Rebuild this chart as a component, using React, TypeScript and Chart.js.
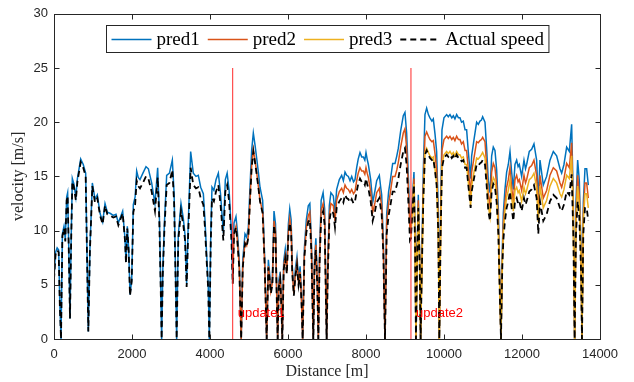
import React, { useEffect, useRef } from "react";
import { Chart, registerables } from "chart.js";

Chart.register(...registerables);

// Distance samples [m]
const distance = [
  0, 40, 80, 120, 150, 180, 215, 256, 290, 325,
  350, 380, 410, 440, 470, 510, 560, 600, 684, 750,
  812, 845, 880, 920, 983, 1051, 1111, 1180, 1248, 1308,
  1368, 1436, 1521, 1590, 1650, 1700, 1761, 1820, 1846, 1880,
  1915, 1949, 1992, 2034, 2080, 2120, 2160, 2205, 2280, 2359,
  2420, 2504, 2589, 2658, 2700, 2740, 2760, 2790, 2830, 2889,
  2960, 3034, 3080, 3120, 3145, 3187, 3256, 3316, 3360, 3401,
  3440, 3504, 3572, 3640, 3700, 3761, 3829, 3870, 3910, 3955,
  3983, 4020, 4051, 4100, 4154, 4214, 4270, 4342, 4393, 4440,
  4490, 4550,
  4582, 4615, 4666, 4700, 4750, 4780, 4800, 4840, 4897, 4940,
  4983, 5025, 5068, 5111, 5154, 5196, 5240, 5282, 5350, 5400,
  5453, 5496, 5530, 5560, 5600, 5641, 5680, 5710, 5735, 5765,
  5800, 5830, 5854, 5890, 5930, 5970, 6010, 6045, 6080, 6110,
  6150, 6190, 6230, 6270, 6310, 6345, 6376, 6420, 6470, 6520,
  6560, 6600, 6630, 6649, 6680, 6715, 6750, 6778, 6810, 6850,
  6900, 6940, 6970, 6991, 7020, 7060, 7100, 7162, 7205, 7248,
  7316, 7376, 7420, 7462, 7505, 7547, 7590, 7633, 7680, 7718,
  7761, 7800, 7846, 7890, 7932, 7970, 8000, 8030, 8060, 8120,
  8171, 8200, 8231, 8274, 8342, 8380, 8402, 8445, 8470, 8487,
  8510, 8530, 8580, 8615, 8684, 8744, 8790, 8829, 8889, 8956,
  8999, 9042, 9085, 9127,
  9153, 9170, 9230, 9260, 9281, 9310, 9341, 9375, 9401, 9430,
  9469, 9512, 9555, 9600, 9640, 9690, 9726, 9770, 9811, 9854,
  9880, 9914, 9948, 9999, 10068, 10110, 10153, 10200, 10239, 10280,
  10324, 10370, 10409, 10450, 10495, 10540, 10580, 10623, 10683, 10709,
  10769, 10837, 10880, 10922, 10960, 10991, 11051, 11093, 11136, 11179,
  11222, 11264, 11307, 11350, 11393, 11435, 11461, 11495, 11521, 11563,
  11606, 11649, 11692, 11734, 11777, 11820, 11863, 11900, 11931, 11991,
  12051, 12090, 12119, 12187, 12247, 12307, 12375, 12418, 12461, 12546,
  12632, 12717, 12803, 12888, 12974, 13017, 13076, 13145, 13213, 13273,
  13316, 13350, 13384, 13427, 13470, 13512, 13538, 13572, 13615, 13658,
  13700,
];

// Actual speed [m/s]
const actualSpeed = [
  5.5, 7.8, 8.2, 8.0, 3.0, 0, 9.5, 10.2, 9.0, 12.8,
  13.2, 8.0, 1.9, 9.0, 14.5, 14.0, 12.8, 14.5, 16.3, 15.8,
  15.0, 8.0, 0.7, 8.0, 14.1, 12.6, 13.0, 11.4, 10.6, 12.3,
  11.5, 11.4, 11.2, 11.3, 10.5, 11.0, 11.6, 9.1, 7.0, 10.2,
  8.1, 4.0, 5.3, 11.7, 12.4, 14.6, 14.1, 13.9, 14.4, 15.0,
  14.8, 13.6, 11.8, 14.9, 11.0, 4.0, 0, 6.0, 10.0, 14.2,
  14.4, 15.6, 12.6, 5.0, 0, 9.1, 11.8, 10.5, 9.1, 4.8,
  9.6, 15.8, 14.2, 13.9, 14.0, 13.0, 12.4, 10.3, 7.5, 4.5,
  0, 9.0, 13.0, 12.7, 13.6, 14.2, 12.4, 9.1, 13.6, 14.2,
  12.7, 9.1,
  5.1, 9.7, 10.3, 9.1, 6.6, 2.5, 0, 6.6, 8.8, 8.5,
  9.4, 12.7, 15.8, 17.3, 16.3, 15.2, 14.0, 12.7, 11.6, 7.0,
  0, 6.6, 5.4, 4.2, 5.0, 10.5, 9.5, 4.0, 0, 4.8,
  5.5, 3.0, 0, 6.4, 7.4, 6.0, 9.5, 10.7, 9.8, 6.0,
  4.0, 5.8, 6.8, 5.0, 6.0, 3.5, 0, 7.5, 9.8, 10.8,
  11.0, 8.0, 3.0, 0, 6.5, 8.2, 5.0, 0, 7.0, 11.2,
  11.8, 10.5, 4.0, 0, 6.0, 10.8, 11.8, 11.6, 10.3, 12.1,
  12.7, 13.0, 12.6, 13.3, 13.0, 12.9, 12.6, 12.9, 12.5, 12.7,
  13.6, 14.3, 14.8, 14.5, 14.5, 14.2, 14.8, 14.3, 13.9, 12.7,
  10.9, 11.3, 11.8, 12.6, 13.0, 12.0, 11.5, 7.8, 3.0, 0,
  5.0, 9.7, 11.4, 12.1, 13.6, 13.6, 14.2, 14.8, 16.1, 17.3,
  17.6, 16.0, 12.7, 9.1,
  9.3, 10.5, 14.2, 8.0, 0, 7.0, 12.1, 7.0, 0, 6.0,
  12.7, 17.0, 17.4, 17.0, 16.7, 16.5, 16.6, 15.5, 14.2, 9.7,
  0, 9.7, 15.8, 16.7, 17.0, 16.8, 17.0, 16.7, 16.9, 16.6,
  17.0, 16.7, 16.7, 16.4, 16.5, 15.8, 15.8, 14.2, 12.1, 13.6,
  14.8, 16.1, 16.0, 16.2, 16.3, 16.5, 16.1, 14.2, 11.8, 10.9,
  13.6, 14.3, 14.0, 12.6, 9.7, 3.5, 0, 6.6, 9.1, 10.9,
  12.1, 12.7, 13.6, 12.1, 10.9, 12.7, 13.0, 12.5, 12.7, 11.8,
  13.0, 12.4, 12.7, 13.6, 13.8, 14.2, 13.0, 9.7, 12.7, 10.9,
  11.5, 12.7, 13.3, 13.0, 12.1, 11.8, 12.4, 13.6, 13.3, 15.2,
  9.7, 0, 9.7, 12.7, 11.2, 6.5, 0, 9.7, 12.1, 12.1,
  10.9,
];

// pred1, over the whole route
const pred1 = [
  5.6, 8.0, 8.4, 8.2, 3.1, 0, 9.7, 10.4, 9.2, 13.1,
  13.5, 8.2, 1.9, 9.2, 14.8, 14.3, 13.1, 14.8, 16.6, 16.1,
  15.3, 8.2, 0.7, 8.2, 14.4, 12.9, 13.3, 11.6, 10.8, 12.5,
  11.7, 11.6, 11.4, 11.5, 10.7, 11.2, 11.8, 9.3, 7.1, 10.4,
  8.3, 4.1, 5.4, 12.4, 13.1, 15.5, 14.9, 14.7, 15.3, 15.9,
  15.7, 14.4, 12.5, 15.8, 11.7, 4.2, 0, 6.4, 10.6, 15.1,
  15.3, 16.5, 13.4, 5.3, 0, 9.6, 12.5, 11.1, 9.6, 5.1,
  10.4, 17.3, 15.3, 15.0, 15.1, 14.0, 13.4, 11.1, 8.1, 4.9,
  0, 9.7, 14.0, 13.7, 14.7, 15.3, 13.4, 9.8, 14.7, 15.3,
  13.7, 9.8,
  5.5, 10.7, 11.3, 10.0, 7.3, 2.8, 0, 7.3, 9.7, 9.4,
  10.3, 14.0, 17.4, 19.0, 17.9, 16.7, 15.4, 14.0, 12.8, 7.7,
  0, 7.3, 6.0, 4.7, 5.6, 11.8, 10.6, 4.5, 0, 5.4,
  6.2, 3.4, 0, 7.2, 8.3, 6.7, 10.6, 12.0, 11.0, 6.7,
  4.5, 6.5, 7.6, 5.6, 6.7, 3.9, 0, 8.4, 11.0, 12.3,
  12.5, 9.1, 3.4, 0, 7.4, 9.3, 5.7, 0, 8.0, 12.8,
  13.5, 12.0, 4.6, 0, 6.8, 12.3, 13.5, 13.2, 11.7, 13.8,
  14.7, 15.1, 14.6, 15.4, 15.1, 15.0, 14.6, 15.0, 14.5, 14.7,
  15.8, 16.6, 17.2, 16.8, 16.8, 16.5, 17.2, 16.6, 16.1, 14.7,
  12.6, 13.1, 13.7, 14.6, 15.1, 13.9, 13.3, 9.0, 3.5, 0,
  6.0, 11.5, 13.6, 14.4, 16.2, 16.2, 16.9, 17.6, 19.2, 20.6,
  20.9, 19.0, 15.1, 10.8,
  11.1, 11.6, 15.4, 8.8, 0, 7.7, 13.3, 7.7, 0, 7.0,
  15.5, 20.7, 21.3, 20.7, 20.4, 20.1, 20.3, 18.9, 17.3, 11.8,
  0, 11.8, 19.3, 20.4, 20.7, 20.5, 20.7, 20.4, 20.6, 20.3,
  20.7, 20.4, 20.4, 20.0, 20.1, 19.3, 19.3, 17.3, 14.8, 16.9,
  18.4, 20.0, 19.8, 20.1, 20.2, 20.5, 20.0, 17.6, 14.6, 13.5,
  16.9, 17.7, 17.4, 15.6, 12.0, 4.3, 0, 8.2, 11.6, 13.8,
  15.4, 16.1, 17.3, 15.4, 13.8, 16.1, 16.5, 15.9, 16.1, 15.0,
  16.5, 15.7, 16.1, 17.3, 17.5, 18.0, 16.5, 12.6, 16.5, 14.2,
  15.0, 16.5, 17.3, 16.9, 15.7, 15.3, 16.1, 17.7, 17.3, 19.8,
  12.6, 0, 12.6, 16.5, 14.6, 8.5, 0, 12.6, 15.7, 15.7,
  14.2,
];

// pred2, from update1 onward
const pred2 = [
  5.1, 9.8, 10.4, 9.2, 6.7, 2.5, 0, 6.7, 8.9, 8.6,
  9.5, 12.8, 16.0, 17.5, 16.5, 15.4, 14.1, 12.8, 11.7, 7.1,
  0, 6.7, 5.6, 4.4, 5.2, 10.9, 9.9, 4.2, 0, 5.0,
  5.7, 3.1, 0, 6.7, 7.7, 6.2, 9.9, 11.1, 10.2, 6.2,
  4.2, 6.0, 7.1, 5.2, 6.2, 3.6, 0, 7.8, 10.2, 11.4,
  11.7, 8.5, 3.2, 0, 6.9, 8.7, 5.3, 0, 7.4, 11.9,
  12.5, 11.1, 4.2, 0, 6.4, 11.4, 12.5, 12.3, 10.9, 12.8,
  13.6, 13.9, 13.5, 14.2, 13.9, 13.8, 13.5, 13.8, 13.4, 13.6,
  14.6, 15.3, 15.8, 15.5, 15.5, 15.2, 15.8, 15.3, 14.9, 13.6,
  11.7, 12.1, 12.6, 13.5, 13.9, 12.8, 12.3, 8.3, 3.2, 0,
  5.5, 10.7, 12.5, 13.3, 15.0, 15.0, 15.6, 16.3, 17.7, 19.0,
  19.4, 17.6, 14.0, 10.0,
  10.2, 11.0, 14.8, 8.4, 0, 7.4, 12.8, 7.4, 0, 6.5,
  14.0, 18.7, 19.1, 18.7, 18.4, 18.2, 18.3, 17.1, 15.6, 10.7,
  0, 10.7, 17.4, 18.4, 18.7, 18.5, 18.7, 18.4, 18.6, 18.3,
  18.7, 18.4, 18.4, 18.0, 18.2, 17.4, 17.4, 15.6, 13.3, 15.4,
  16.7, 18.2, 18.1, 18.3, 18.4, 18.6, 18.2, 16.0, 13.3, 12.3,
  15.4, 16.2, 15.8, 14.2, 11.0, 4.0, 0, 7.5, 10.6, 12.6,
  14.0, 14.7, 15.8, 14.0, 12.6, 14.7, 15.1, 14.5, 14.7, 13.7,
  15.1, 14.4, 14.7, 15.8, 16.0, 16.5, 15.1, 11.5, 15.1, 13.0,
  13.7, 15.1, 15.8, 15.5, 14.4, 14.0, 14.8, 16.2, 15.8, 18.1,
  11.5, 0, 11.5, 15.1, 13.3, 7.7, 0, 11.5, 14.4, 14.4,
  13.0,
];

// pred3, from update2 onward
const pred3 = [
  9.3, 10.6, 14.3, 8.1, 0, 7.1, 12.2, 7.1, 0, 6.1,
  12.8, 17.2, 17.6, 17.2, 16.9, 16.7, 16.8, 15.7, 14.3, 9.8,
  0, 9.8, 16.0, 17.0, 17.3, 17.1, 17.3, 17.0, 17.2, 16.9,
  17.3, 17.0, 17.0, 16.7, 16.8, 16.1, 16.1, 14.5, 12.3, 14.1,
  15.4, 16.7, 16.6, 16.8, 17.0, 17.2, 16.7, 14.8, 12.3, 11.3,
  14.1, 14.9, 14.6, 13.1, 10.1, 3.6, 0, 6.9, 9.8, 11.8,
  13.1, 13.7, 14.7, 13.1, 11.8, 13.7, 14.0, 13.5, 13.7, 12.7,
  14.0, 13.4, 13.7, 14.7, 14.9, 15.3, 14.0, 10.8, 14.1, 12.1,
  12.8, 14.1, 14.8, 14.4, 13.4, 13.1, 13.8, 15.1, 14.8, 16.9,
  10.8, 0, 10.8, 14.1, 12.4, 7.2, 0, 10.8, 13.4, 13.4,
  12.1,
];

const updateDistances = [4582, 9153];
const updateLabels = ["update1", "update2"];
const updateLineTop = 25;
const updateLabelSpeed = 2.4;

const seriesNames = ["pred1", "pred2", "pred3", "Actual speed"];
const xTicks = [0, 2000, 4000, 6000, 8000, 10000, 12000, 14000];
const yTicks = [0, 5, 10, 15, 20, 25, 30];

const AXIS_COLOR = "#262626";
const SERIF = "'Liberation Serif', 'Times New Roman', serif";
const SANS = "'Liberation Sans', Arial, sans-serif";

const overlayPlugin = {
  id: "matlabOverlay",
  afterDraw(chart: any) {
    const { ctx, chartArea } = chart;
    const xs = chart.scales.x;
    const ys = chart.scales.y;
    const L = Math.round(chartArea.left) + 0.5;
    const R = Math.round(chartArea.right) + 0.5;
    const T = Math.round(chartArea.top) + 0.5;
    const B = Math.round(chartArea.bottom) + 0.5;
    ctx.save();
    // frame
    ctx.strokeStyle = AXIS_COLOR;
    ctx.lineWidth = 1;
    ctx.setLineDash([]);
    ctx.strokeRect(L, T, R - L, B - T);
    const tl = 5;
    ctx.beginPath();
    xTicks.forEach((v) => {
      const px = Math.round(xs.getPixelForValue(v)) + 0.5;
      ctx.moveTo(px, B);
      ctx.lineTo(px, B - tl);
      ctx.moveTo(px, T);
      ctx.lineTo(px, T + tl);
    });
    yTicks.forEach((v) => {
      const py = Math.round(ys.getPixelForValue(v)) + 0.5;
      ctx.moveTo(L, py);
      ctx.lineTo(L + tl, py);
      ctx.moveTo(R, py);
      ctx.lineTo(R - tl, py);
    });
    ctx.stroke();

    // update labels
    ctx.fillStyle = "#ff0000";
    ctx.font = `13px ${SANS}`;
    ctx.textBaseline = "middle";
    ctx.textAlign = "left";
    updateDistances.forEach((d, i) => {
      ctx.fillText(updateLabels[i], xs.getPixelForValue(d) + 5, ys.getPixelForValue(updateLabelSpeed));
    });

    // axis titles
    ctx.fillStyle = AXIS_COLOR;
    ctx.font = `16px ${SERIF}`;
    ctx.textAlign = "center";
    ctx.textBaseline = "middle";
    ctx.fillText("Distance [m]", (chartArea.left + chartArea.right) / 2, 372);
    ctx.save();
    ctx.translate(19, (chartArea.top + chartArea.bottom) / 2);
    ctx.rotate(-Math.PI / 2);
    ctx.fillText("velocity [m/s]", 0, 0);
    ctx.restore();

    // legend
    ctx.font = `19px ${SERIF}`;
    const lineLen = 40;
    const gapLT = 5;
    const gapEntry = 8;
    const pad = 5;
    const widths = seriesNames.map((n) => ctx.measureText(n).width);
    const total =
      pad * 2 + widths.reduce((a, w) => a + w + lineLen + gapLT, 0) + gapEntry * (seriesNames.length - 1);
    const cx = (chartArea.left + chartArea.right) / 2;
    const bx = Math.round(cx - total / 2) + 0.5;
    const by = 25.5;
    const bh = 27;
    ctx.fillStyle = "#ffffff";
    ctx.fillRect(bx, by, total, bh);
    ctx.strokeStyle = AXIS_COLOR;
    ctx.lineWidth = 1;
    ctx.strokeRect(bx, by, total, bh);
    const midY = by + bh / 2;
    let x = bx + pad;
    const dsets = chart.data.datasets;
    seriesNames.forEach((n, i) => {
      const ds = dsets.find((d: any) => d.label === n);
      ctx.beginPath();
      ctx.strokeStyle = ds.borderColor;
      ctx.lineWidth = ds.borderWidth;
      ctx.setLineDash(ds.borderDash || []);
      ctx.moveTo(x, Math.round(midY) + 0.5);
      ctx.lineTo(x + lineLen, Math.round(midY) + 0.5);
      ctx.stroke();
      ctx.setLineDash([]);
      x += lineLen + gapLT;
      ctx.fillStyle = "#000000";
      ctx.textAlign = "left";
      ctx.textBaseline = "middle";
      ctx.fillText(n, x, midY + 1);
      x += widths[i] + gapEntry;
    });
    ctx.restore();
  },
};

function App() {
  const canvasRef = useRef<HTMLCanvasElement | null>(null);

  useEffect(() => {
    if (!canvasRef.current) return;
    const i2 = distance.indexOf(updateDistances[0]);
    const i3 = distance.indexOf(updateDistances[1]);
    const pts = (vals: number[], start: number) =>
      vals.map((v, i) => ({ x: distance[start + i], y: v })).filter((p) => p.x !== undefined);

    const updateSets = updateDistances.map((d, i) => ({
      label: "u" + i,
      data: [
        { x: d, y: 0 },
        { x: d, y: updateLineTop },
      ],
      borderColor: "#ff2a2a",
      borderWidth: 1,
      pointRadius: 0,
      order: -1,
    }));

    const chart = new Chart(canvasRef.current, {
      type: "line",
      data: {
        datasets: [
          {
            label: "pred1",
            data: pts(pred1, 0),
            borderColor: "#0072BD",
            borderWidth: 1.5,
            pointRadius: 0,
            order: 3,
          },
          {
            label: "pred2",
            data: pts(pred2, i2),
            borderColor: "#D95319",
            borderWidth: 1.5,
            pointRadius: 0,
            order: 2,
          },
          {
            label: "pred3",
            data: pts(pred3, i3),
            borderColor: "#EDB120",
            borderWidth: 1.5,
            pointRadius: 0,
            order: 1,
          },
          {
            label: "Actual speed",
            data: pts(actualSpeed, 0),
            borderColor: "#000000",
            borderWidth: 1.8,
            borderDash: [6, 4],
            pointRadius: 0,
            order: 0,
          },
          ...updateSets,
        ] as any,
      },
      options: {
        animation: false,
        responsive: false,
        devicePixelRatio: 1,
        layout: { padding: { left: 0, top: 12, right: 34, bottom: 0 } },
        plugins: { legend: { display: false }, tooltip: { enabled: false } },
        elements: { line: { tension: 0 }, point: { radius: 0 } },
        scales: {
          x: {
            type: "linear",
            min: 0,
            max: 14000,
            afterFit: (s: any) => {
              s.height = 43;
            },
            afterBuildTicks: (s: any) => {
              s.ticks = xTicks.map((v) => ({ value: v }));
            },
            grid: { display: false, drawTicks: false },
            border: { display: false },
            ticks: {
              padding: 8,
              color: AXIS_COLOR,
              font: { family: SANS, size: 13 },
              maxRotation: 0,
              autoSkip: false,
              callback: (v: any) => String(v),
            },
          },
          y: {
            type: "linear",
            min: 0,
            max: 30,
            afterFit: (s: any) => {
              s.width = 54;
            },
            afterBuildTicks: (s: any) => {
              s.ticks = yTicks.map((v) => ({ value: v }));
            },
            grid: { display: false, drawTicks: false },
            border: { display: false },
            ticks: {
              padding: 6,
              color: AXIS_COLOR,
              font: { family: SANS, size: 13 },
              autoSkip: false,
              callback: (v: any) => String(v),
            },
          },
        },
      } as any,
      plugins: [overlayPlugin],
    });
    return () => chart.destroy();
  }, []);

  return (
    <div style={{ position: "fixed", left: 0, top: 0, width: 634, height: 382, background: "#fff" }}>
      <canvas ref={canvasRef} width={634} height={382} style={{ display: "block" }} />
    </div>
  );
}

export default App;
